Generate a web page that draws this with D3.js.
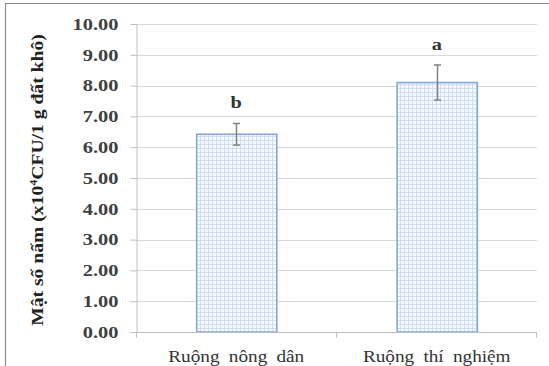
<!DOCTYPE html>
<html><head><meta charset="utf-8">
<script src="https://cdn.jsdelivr.net/npm/d3@7"></script>
<style>body{margin:0;background:#fff;}svg{display:block;}</style>
</head><body>
<script>
const categories = ["Ruộng nông dân", "Ruộng thí nghiệm"];
const values = [6.42, 8.10];
const errors = [0.35, 0.57];
const letters = ["b", "a"];
const yTicks = [0,1,2,3,4,5,6,7,8,9,10];

const W = 549, H = 366;
const svg = d3.select("body").append("svg").attr("width", W).attr("height", H);
const defs = svg.append("defs");
const pat = defs.append("pattern").attr("id","grid").attr("patternUnits","userSpaceOnUse")
  .attr("width",4).attr("height",4);
pat.append("rect").attr("width",4).attr("height",4).attr("fill","#f5f8fd");
pat.append("rect").attr("x",0).attr("y",0).attr("width",1).attr("height",4).attr("fill","#d0def2");
pat.append("rect").attr("x",0).attr("y",0).attr("width",4).attr("height",1).attr("fill","#d0def2");

// outer frame
svg.append("path").attr("d","M5.5,366 L5.5,3.5 L549,3.5").attr("fill","none").attr("stroke","#8c8c8c").attr("stroke-width",1.2);

const x = d3.scaleBand().domain(categories).range([136, 537]).paddingInner(0.6).paddingOuter(0.3);
const y = d3.scaleLinear().domain([0, 10]).range([332, 24]);

// gridlines
svg.append("g").selectAll("line").data(yTicks.slice(1)).join("line")
  .attr("x1",136).attr("x2",537).attr("y1",d=>Math.round(y(d))+0.5).attr("y2",d=>Math.round(y(d))+0.5)
  .attr("stroke","#d9d9d9").attr("stroke-width",1.2);

// y axis
const ya = svg.append("g").attr("transform","translate(136.5,0)")
  .call(d3.axisLeft(y).tickValues(yTicks).tickFormat(d3.format(".2f")).tickSize(6).tickPadding(8.5));
ya.select(".domain").attr("stroke","#bfbfbf");
ya.selectAll(".tick line").attr("stroke","#bfbfbf");
ya.selectAll(".tick text").attr("font-family","'Liberation Serif', serif").attr("font-size",16.5)
  .attr("font-weight","bold").attr("fill","#404040").attr("transform","scale(1.24,1)");

// bars
svg.append("g").selectAll("rect").data(categories).join("rect")
  .attr("x",d=>x(d)+0.5).attr("width",x.bandwidth())
  .attr("y",(d,i)=>y(values[i])).attr("height",(d,i)=>y(0)-y(values[i]))
  .attr("fill","url(#grid)").attr("stroke","#7ea6db").attr("stroke-width",1.5);

// x axis
const xa = svg.append("g").attr("transform","translate(0,332.5)");
xa.append("line").attr("x1",136).attr("x2",537).attr("stroke","#bfbfbf");
const mid = (x(categories[0]) + x.bandwidth()/2 + x(categories[1]) + x.bandwidth()/2)/2;
[136.5, mid, 536.5].forEach(v=>xa.append("line").attr("x1",v).attr("x2",v).attr("y1",0).attr("y2",5).attr("stroke","#bfbfbf"));
xa.selectAll("text").data(categories).join("text")
  .attr("transform",d=>`translate(${x(d)+x.bandwidth()/2},29) scale(1.1,1)`)
  .attr("text-anchor","middle")
  .attr("font-family","'Liberation Serif', serif").attr("font-size",17.5).attr("fill","#333")
  .attr("word-spacing","4px")
  .text(d=>d);

// error bars
const eb = svg.append("g").attr("stroke","#808080").attr("stroke-width",1.5);
categories.forEach((c,i)=>{
  const cx = Math.round(x(c)+x.bandwidth()/2)+0.5;
  eb.append("line").attr("x1",cx).attr("x2",cx).attr("y1",y(values[i]+errors[i])).attr("y2",y(values[i]-errors[i]));
  eb.append("line").attr("x1",cx-3.5).attr("x2",cx+3.5).attr("y1",y(values[i]+errors[i])).attr("y2",y(values[i]+errors[i]));
  eb.append("line").attr("x1",cx-3.5).attr("x2",cx+3.5).attr("y1",y(values[i]-errors[i])).attr("y2",y(values[i]-errors[i]));
});

// letters
svg.append("g").selectAll("text").data(categories).join("text")
  .attr("transform",(d,i)=>`translate(${x(d)+x.bandwidth()/2},${y(values[i]+errors[i])-15}) scale(1.2,1)`)
  .attr("text-anchor","middle").attr("font-family","'Liberation Serif', serif").attr("font-size",17)
  .attr("font-weight","bold").attr("fill","#333").text((d,i)=>letters[i]);

// y label
const yl = svg.append("text").attr("transform","translate(43,180) rotate(-90) scale(1.19,1)")
  .attr("text-anchor","middle").attr("font-family","'Liberation Serif', serif").attr("font-size",16.5)
  .attr("font-weight","bold").attr("fill","#222");
yl.append("tspan").text("Mật số nấm (x10");
yl.append("tspan").attr("font-size",10).attr("dy",-6).text("4");
yl.append("tspan").attr("dy",6).text("CFU/1 g đất khô)");
</script>
</body></html>
